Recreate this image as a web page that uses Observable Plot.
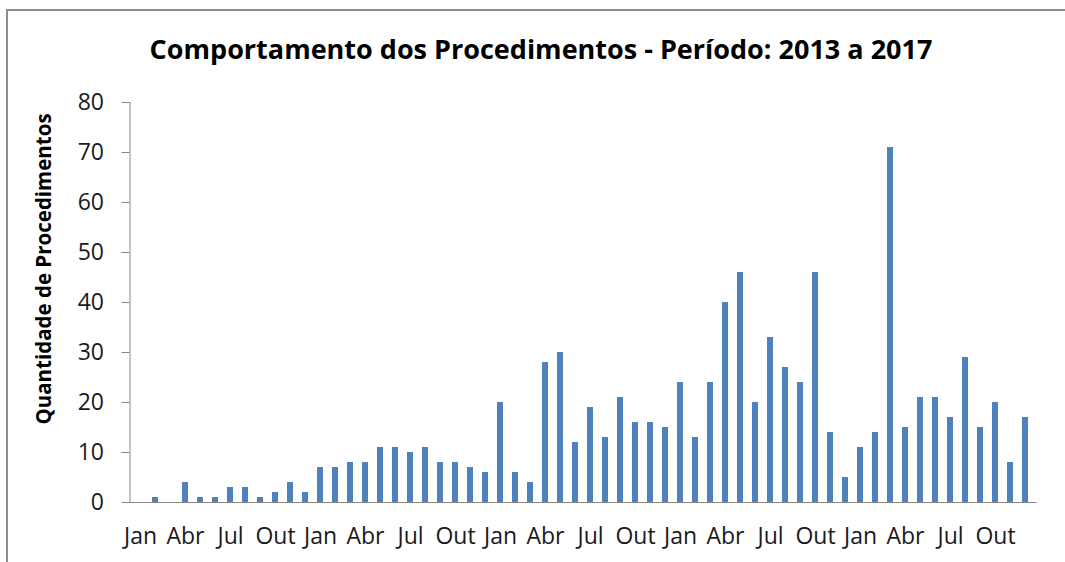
<!DOCTYPE html>
<html>
<head>
<meta charset="utf-8">
<script src="https://cdn.jsdelivr.net/npm/d3@7"></script>
<script src="https://cdn.jsdelivr.net/npm/@observablehq/plot@0.6"></script>
<style>
html, body { margin: 0; padding: 0; background: #fff; width: 1065px; height: 562px; overflow: hidden; font-family: "Open Sans", sans-serif; }
#frame { position: absolute; left: 6px; top: 9px; width: 1200px; height: 700px; border-top: 2px solid #8e8e8e; border-left: 2px solid #8e8e8e; box-sizing: border-box; }
#title { position: absolute; left: 0; top: 35px; width: 1082px; text-align: center; font-weight: bold; font-size: 27px; color: #000; line-height: 1; white-space: nowrap; }
#ylabel { position: absolute; left: 43px; top: 269px; transform: translate(-50%, -50%) rotate(-90deg); font-weight: bold; font-size: 20.5px; line-height: 1; white-space: nowrap; color: #000; }
#chart { position: absolute; left: 0; top: 80px; }
#chart text { fill: #1a1a1a; }
</style>
</head>
<body>
<div id="frame"></div>
<div id="title">Comportamento dos Procedimentos - Período: 2013 a 2017</div>
<div id="ylabel">Quantidade de Procedimentos</div>
<div id="chart"></div>
<script>
// Data
const months = ["Jan", "Fev", "Mar", "Abr", "Mai", "Jun", "Jul", "Ago", "Set", "Out", "Nov", "Dez"];
const years = [2013, 2014, 2015, 2016, 2017];
const values2013 = [0, 1, 0, 4, 1, 1, 3, 3, 1, 2, 4, 2];
const values2014 = [7, 7, 8, 8, 11, 11, 10, 11, 8, 8, 7, 6];
const values2015 = [20, 6, 4, 28, 30, 12, 19, 13, 21, 16, 16, 15];
const values2016 = [24, 13, 24, 40, 46, 20, 33, 27, 24, 46, 14, 5];
const values2017 = [11, 14, 71, 15, 21, 21, 17, 29, 15, 20, 8, 17];
const labeledMonths = ["Jan", "Abr", "Jul", "Out"];
const yTicks = [0, 10, 20, 30, 40, 50, 60, 70, 80];

const series = [values2013, values2014, values2015, values2016, values2017];
const data = years.flatMap((yr, i) =>
  series[i].map((v, m) => ({ key: `${yr}-${months[m]}`, month: months[m], value: v }))
);
const xTicks = data.filter(d => labeledMonths.includes(d.month)).map(d => d.key);

const chart = Plot.plot({
  width: 1065,
  height: 482,
  marginTop: 22,
  marginBottom: 60,
  marginLeft: 129.5,
  marginRight: 29.5,
  style: { fontFamily: "Open Sans, sans-serif", fontSize: "23px", color: "#868686", background: "transparent", overflow: "visible" },
  x: {
    type: "band",
    domain: data.map(d => d.key),
    paddingInner: 0.6,
    paddingOuter: 0.3,
    ticks: xTicks,
    tickFormat: k => k.split("-")[1],
    tickSize: 0,
    tickPadding: 25,
    line: true,
    label: null
  },
  y: {
    domain: [0, 80],
    ticks: yTicks,
    tickSize: 8,
    tickPadding: 18,
    line: true,
    label: null
  },
  marks: [
    Plot.barY(data, { x: "key", y: "value", fill: "#4f81bd" })
  ]
});
document.getElementById("chart").appendChild(chart);
</script>
</body>
</html>
